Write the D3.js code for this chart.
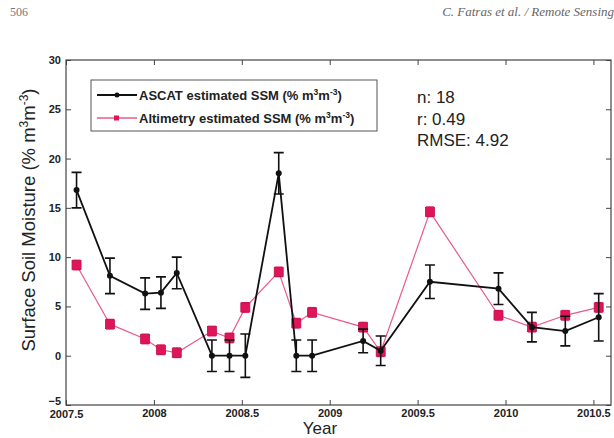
<!DOCTYPE html>
<html><head><meta charset="utf-8">
<script src="https://cdn.jsdelivr.net/npm/d3@7"></script>
<style>body{margin:0;background:#fff}svg{display:block}</style>
</head><body>
<svg id="c" width="614" height="438"></svg>
<script>
const years = [2007.56, 2007.75, 2007.95, 2008.04, 2008.13, 2008.33, 2008.43, 2008.52, 2008.71, 2008.81, 2008.90, 2009.19, 2009.29, 2009.57, 2009.96, 2010.15, 2010.34, 2010.53];
const ascat = [16.8, 8.1, 6.3, 6.4, 8.4, 0.0, 0.0, 0.0, 18.5, 0.0, 0.0, 1.5, 0.5, 7.5, 6.8, 2.9, 2.5, 3.9];
const ascatErr = [1.8, 1.8, 1.6, 1.6, 1.6, 1.6, 1.6, 2.2, 2.1, 1.6, 1.6, 1.2, 1.5, 1.7, 1.6, 1.5, 1.5, 2.4];
const alti = [9.2, 3.2, 1.7, 0.6, 0.3, 2.5, 1.8, 4.9, 8.5, 3.3, 4.4, 2.9, 0.4, 14.6, 4.1, 2.9, 4.1, 4.9];
const altiErr = [0.5, 0.5, 0.5, 0.5, 0.5, 0.5, 0.5, 0.5, 0.5, 0.5, 0.5, 0.5, 0.5, 0.5, 0.5, 0.5, 0.5, 0.5];
const xTicks = [2007.5, 2008, 2008.5, 2009, 2009.5, 2010, 2010.5];
const xTickLabels = ["2007.5", "2008", "2008.5", "2009", "2009.5", "2010", "2010.5"];
const yTicks = [-5, 0, 5, 10, 15, 20, 25, 30];
const stats = ["n: 18", "r: 0.49", "RMSE: 4.92"];

const svg = d3.select("#c");
const L = 66, R = 611, T = 60, B = 405;
const x = d3.scaleLinear().domain([2007.5, 2010.6]).range([L, R]);
const y = d3.scaleLinear().domain([-5, 30]).range([B, T]);

// page header
svg.append("text").attr("x", 10).attr("y", 16).attr("font-family", "Liberation Serif").attr("font-size", 12).attr("fill", "#777").text("506");
svg.append("text").attr("x", 614).attr("y", 16).attr("text-anchor", "end").attr("font-family", "Liberation Serif").attr("font-style", "italic").attr("font-size", 13).attr("fill", "#666").text("C. Fatras et al. / Remote Sensing");

// frame
svg.append("rect").attr("x", L).attr("y", T).attr("width", R - L).attr("height", B - T).attr("fill", "none").attr("stroke", "#444").attr("stroke-width", 1.2);

const font = "Liberation Sans, Arial, sans-serif";
// axes
const xa = svg.append("g").attr("transform", `translate(0,${B})`)
  .call(d3.axisBottom(x).tickValues(xTicks).tickFormat((d, i) => xTickLabels[i]).tickSizeInner(-5).tickSizeOuter(0).tickPadding(4));
const ya = svg.append("g").attr("transform", `translate(${L},0)`)
  .call(d3.axisLeft(y).tickValues(yTicks).tickSizeInner(-5).tickSizeOuter(0).tickPadding(5));
svg.append("g").attr("transform", `translate(0,${T})`).call(d3.axisTop(x).tickValues(xTicks).tickFormat("").tickSizeInner(-5).tickSizeOuter(0));
svg.append("g").attr("transform", `translate(${R},0)`).call(d3.axisRight(y).tickValues(yTicks).tickFormat("").tickSizeInner(-5).tickSizeOuter(0));
svg.selectAll(".domain").remove();
svg.selectAll(".tick line").attr("stroke", "#444");
[xa, ya].forEach(a => a.selectAll("text").attr("font-family", font).attr("font-size", 11).attr("font-weight", "bold").attr("fill", "#222"));
ya.selectAll(".tick").filter(d => d === -5).select("text").attr("dy", "-0.05em");
xa.selectAll(".tick").filter(d => d === 2007.5).select("text").attr("dy", "0.85em");

// axis titles
svg.append("text").attr("x", 320).attr("y", 434).attr("text-anchor", "middle").attr("font-family", font).attr("font-size", 17).attr("fill", "#222").text("Year");
const yl = svg.append("text").attr("transform", "translate(35,220) rotate(-90)").attr("text-anchor", "middle").attr("font-family", font).attr("font-size", 18.5).attr("fill", "#222");
yl.append("tspan").text("Surface Soil Moisture (% m");
yl.append("tspan").attr("dy", -7).attr("font-size", 12).text("3");
yl.append("tspan").attr("dy", 7).text("m");
yl.append("tspan").attr("dy", -7).attr("font-size", 12).text("-3");
yl.append("tspan").attr("dy", 7).text(")");

const idx = d3.range(years.length);
const blackC = "#111", redLine = "#ea5a86", redMark = "#e0145a";

// altimetry series
svg.append("path").datum(idx).attr("fill", "none").attr("stroke", redLine).attr("stroke-width", 1.2)
  .attr("d", d3.line().x(i => x(years[i])).y(i => y(alti[i])));
const ra = svg.append("g");
ra.selectAll("path.e").data(idx).join("path").attr("stroke", redMark).attr("stroke-width", 1).attr("fill", "none")
  .attr("d", i => { const cx = x(years[i]), a = y(alti[i] + altiErr[i]), b = y(alti[i] - altiErr[i]); return `M${cx-4},${a}H${cx+4}M${cx},${a}V${b}M${cx-4},${b}H${cx+4}`; });
ra.selectAll("rect").data(idx).join("rect").attr("x", i => x(years[i]) - 4.5).attr("y", i => y(alti[i]) - 4.5)
  .attr("width", 9).attr("height", 9).attr("fill", redMark).attr("stroke", "#c0104a").attr("stroke-width", 0.8);

// ascat series
svg.append("path").datum(idx).attr("fill", "none").attr("stroke", blackC).attr("stroke-width", 1.8)
  .attr("d", d3.line().x(i => x(years[i])).y(i => y(ascat[i])));
const ba = svg.append("g");
ba.selectAll("path.e").data(idx).join("path").attr("stroke", blackC).attr("stroke-width", 1.6).attr("fill", "none")
  .attr("d", i => { const cx = x(years[i]), a = y(ascat[i] + ascatErr[i]), b = y(ascat[i] - ascatErr[i]); return `M${cx-5},${a}H${cx+5}M${cx},${a}V${b}M${cx-5},${b}H${cx+5}`; });
ba.selectAll("circle").data(idx).join("circle").attr("cx", i => x(years[i])).attr("cy", i => y(ascat[i])).attr("r", 3).attr("fill", blackC);

// legend
const lg = svg.append("g");
lg.append("rect").attr("x", 91).attr("y", 80).attr("width", 286).attr("height", 51).attr("fill", "#fff").attr("stroke", "#555").attr("stroke-width", 1);
const items = [{label: "ASCAT estimated SSM (% m", c: blackC, w: 1.8}, {label: "Altimetry estimated SSM (% m", c: redLine, w: 1.3}];
items.forEach((it, k) => {
  const yy = 95 + k * 23;
  lg.append("line").attr("x1", 97).attr("x2", 137).attr("y1", yy).attr("y2", yy).attr("stroke", it.c).attr("stroke-width", it.w);
  if (k === 0) lg.append("circle").attr("cx", 117).attr("cy", yy).attr("r", 2.5).attr("fill", blackC);
  else lg.append("rect").attr("x", 114).attr("y", yy - 2.5).attr("width", 5).attr("height", 5).attr("fill", redMark);
  const t = lg.append("text").attr("x", 139).attr("y", yy + 4.5).attr("font-family", font).attr("font-size", 13).attr("font-weight", "bold").attr("fill", "#222");
  t.append("tspan").text(it.label);
  t.append("tspan").attr("dy", -5).attr("font-size", 8.5).text("3");
  t.append("tspan").attr("dy", 5).text("m");
  t.append("tspan").attr("dy", -5).attr("font-size", 8.5).text("-3");
  t.append("tspan").attr("dy", 5).text(")");
});

// stats
stats.forEach((s, k) => {
  svg.append("text").attr("x", 417).attr("y", 103 + k * 21.5).attr("font-family", font).attr("font-size", 17).attr("fill", "#222").text(s);
});
</script>
</body></html>
